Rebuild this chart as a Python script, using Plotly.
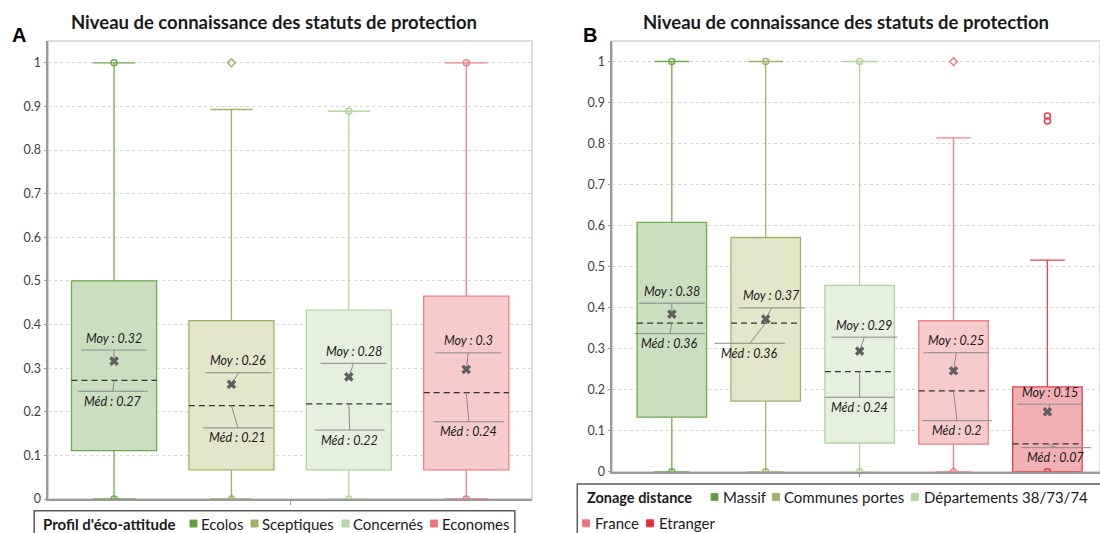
import plotly.graph_objects as go

# ---------------- DATA ----------------
# Panel A : Profil d'éco-attitude
groups_a = ["Ecolos", "Sceptiques", "Concernés", "Economes"]
q1_a = [0.111, 0.067, 0.067, 0.067]
median_a = [0.272, 0.214, 0.218, 0.244]
q3_a = [0.500, 0.409, 0.433, 0.465]
mean_a = [0.316, 0.263, 0.280, 0.297]
low_a = [0.0, 0.0, 0.0, 0.0]
high_a = [1.0, 0.893, 0.889, 1.0]
points_a = [[0.0, 1.0], [0.0, 1.0], [0.0, 0.889], [0.0, 1.0]]

# Panel B : Zonage distance
groups_b = ["Massif", "Communes portes", "Départements 38/73/74", "France", "Etranger"]
q1_b = [0.133, 0.172, 0.070, 0.067, 0.0]
median_b = [0.362, 0.362, 0.244, 0.197, 0.068]
q3_b = [0.608, 0.571, 0.454, 0.368, 0.207]
mean_b = [0.384, 0.372, 0.294, 0.246, 0.146]
low_b = [0.0, 0.0, 0.0, 0.0, 0.0]
high_b = [1.0, 1.0, 1.0, 0.814, 0.516]
points_b = [[0.0, 1.0], [0.0, 1.0], [0.0, 1.0], [0.0, 1.0], [0.0, 0.867, 0.855]]

tick_vals = [0, 0.1, 0.2, 0.3, 0.4, 0.5, 0.6, 0.7, 0.8, 0.9, 1]
tick_text = ["0", "0.1", "0.2", "0.3", "0.4", "0.5", "0.6", "0.7", "0.8", "0.9", "1"]

title_text = "Niveau de connaissance des statuts de protection"
legend_title_a = "Profil d'éco-attitude"
legend_title_b = "Zonage distance"

# ---------------- STYLES / POSITIONS ----------------
line_a = ["#6FAA4C", "#A3B266", "#B3D49E", "#EE7F84"]
fill_a = ["#CADFBD", "#E3E6C8", "#E6F0DE", "#F6CBCC"]
sym_a = ["circle-open", "diamond-open", "circle-open", "circle-open"]
leg_a = ["#5E9C3E", "#A2B161", "#B8D7A4", "#EA7479"]

line_b = ["#6FAA4C", "#A3B266", "#B3D49E", "#EE7F84", "#E4404C"]
fill_b = ["#CADFBD", "#E3E6C8", "#E6F0DE", "#F6CBCC", "#F2B0B3"]
sym_b = ["circle-open", "circle-open", "circle-open", "diamond-open", "circle-open"]
leg_b = ["#5E9C3E", "#A2B161", "#B8D7A4", "#EA7479", "#E0303C"]

# label (leader line) placement, in data units
moy_line_a = [0.3415, 0.2895, 0.311, 0.335]
med_line_a = [0.247, 0.163, 0.158, 0.177]
moy_dx_a = [0.0, 0.06, 0.04, 0.017]
med_dx_a = [-0.01, 0.055, 0.007, 0.023]

moy_line_b = [0.4107, 0.3993, 0.328, 0.290, 0.1644]
med_line_b = [0.3366, 0.313, 0.1815, 0.1244, 0.0585]
moy_dx_b = [0.0, 0.063, 0.05, 0.03, 0.026]
med_dx_b = [-0.02, -0.169, 0.0, 0.037, 0.092]

W, H = 1100, 533          # reference geometry
FIG_H = 540               # page height actually rendered
FONT = "Lato, 'Open Sans', sans-serif"

def px(x):
    return x / W

def py(y):
    return (H - y) / H

dom_a_x = [48.3, 532.0]
dom_a_y = [499.0, 41.0]
dom_b_x = [612.3, 1100.0]
dom_b_y = [471.7, 41.0]
range_a = [-0.56, 3.56]
range_b = [-0.634, 4.56]
bw_a, bw_b = 0.725, 0.74


def fmt(v):
    return f"{round(v, 2):g}"


fig = go.Figure()
annotations = []
shapes = []


def add_panel(xa, ya, groups, q1, med, q3, mean, low, high, pts, lines, fills, syms,
              bw, moy_line, med_line, moy_dx, med_dx, ppu):
    for i, g in enumerate(groups):
        fig.add_trace(go.Box(
            x=[i], q1=[q1[i]], median=[med[i]], q3=[q3[i]],
            lowerfence=[low[i]], upperfence=[high[i]],
            width=bw, whiskerwidth=0.5, fillcolor=fills[i],
            line=dict(color=lines[i], width=1.3), boxpoints=False,
            name=g, showlegend=False, xaxis=xa, yaxis=ya, hoverinfo="skip"))
    for i, g in enumerate(groups):
        # cover the solid median line, then draw dashed black median
        fig.add_trace(go.Scatter(
            x=[i - bw / 2 + 0.008, i + bw / 2 - 0.008], y=[med[i], med[i]],
            mode="lines", line=dict(color=fills[i], width=2.6),
            showlegend=False, hoverinfo="skip", xaxis=xa, yaxis=ya))
        fig.add_trace(go.Scatter(
            x=[i - bw / 2, i + bw / 2], y=[med[i], med[i]],
            mode="lines", line=dict(color="#333333", width=1.3, dash="6px,4px"),
            showlegend=False, hoverinfo="skip", xaxis=xa, yaxis=ya))
    # leader lines
    hw_moy = 33 / ppu
    hw_med = 35 / ppu
    lx, ly = [], []
    for i in range(len(groups)):
        cm = i + moy_dx[i]
        cd = i + med_dx[i]
        lx += [cm - hw_moy, cm + hw_moy, None, cm, i, None]
        ly += [moy_line[i], moy_line[i], None, moy_line[i], mean[i], None]
        lx += [cd - hw_med, cd + hw_med, None, i, cd, None]
        ly += [med_line[i], med_line[i], None, med[i], med_line[i], None]
        annotations.append(dict(
            x=cm, y=moy_line[i], xref=xa, yref=ya, text="<i>Moy : " + fmt(mean[i]) + "</i>",
            showarrow=False, xanchor="center", yanchor="middle", yshift=12,
            font=dict(family=FONT, size=12.5, color="#1a1a1a")))
        annotations.append(dict(
            x=cd, y=med_line[i], xref=xa, yref=ya, text="<i>Méd : " + fmt(med[i]) + "</i>",
            showarrow=False, xanchor="center", yanchor="middle", yshift=-10,
            font=dict(family=FONT, size=12.5, color="#1a1a1a")))
    fig.add_trace(go.Scatter(x=lx, y=ly, mode="lines",
                             line=dict(color="#8a8a8a", width=1),
                             showlegend=False, hoverinfo="skip", xaxis=xa, yaxis=ya))
    # mean markers
    fig.add_trace(go.Scatter(
        x=list(range(len(groups))), y=mean, mode="markers",
        marker=dict(symbol="x", size=8.5, color="#5f5f5f", line=dict(width=0)),
        showlegend=False, hoverinfo="skip", xaxis=xa, yaxis=ya))
    # extreme points / outliers
    for i in range(len(groups)):
        fig.add_trace(go.Scatter(
            x=[i] * len(pts[i]), y=pts[i], mode="markers",
            marker=dict(symbol=syms[i], size=6, color=lines[i], line=dict(width=1.5, color=lines[i])),
            showlegend=False, hoverinfo="skip", xaxis=xa, yaxis=ya))


add_panel("x", "y", groups_a, q1_a, median_a, q3_a, mean_a, low_a, high_a, points_a,
          line_a, fill_a, sym_a, bw_a, moy_line_a, med_line_a, moy_dx_a, med_dx_a,
          (dom_a_x[1] - dom_a_x[0]) / (range_a[1] - range_a[0]))
add_panel("x2", "y2", groups_b, q1_b, median_b, q3_b, mean_b, low_b, high_b, points_b,
          line_b, fill_b, sym_b, bw_b, moy_line_b, med_line_b, moy_dx_b, med_dx_b,
          (dom_b_x[1] - dom_b_x[0]) / (range_b[1] - range_b[0]))

# frames (light gray top/right)
for xr, yr in [("x domain", "y domain"), ("x2 domain", "y2 domain")]:
    shapes.append(dict(type="rect", xref=xr, yref=yr, x0=0, x1=1, y0=0, y1=1,
                       line=dict(color="#d2d2d2", width=1.5), layer="below"))

# titles and panel letters
for cx, letter, lx in [(274, "A", 19), (846, "B", 589.5)]:
    annotations.append(dict(x=px(cx), y=py(22.5), xref="paper", yref="paper", text="<b>" + title_text + "</b>",
                            showarrow=False, xanchor="center", yanchor="middle",
                            font=dict(family=FONT, size=18.5, color="#1a1a1a")))
    annotations.append(dict(x=px(lx), y=py(34.5), xref="paper", yref="paper", text="<b>" + letter + "</b>",
                            showarrow=False, xanchor="center", yanchor="middle",
                            font=dict(family="Liberation Sans, Arial, sans-serif", size=20, color="#000000")))

# legends (manual, compact)
def leg_box(x0, y0, x1, y1):
    shapes.append(dict(type="rect", xref="paper", yref="paper", x0=px(x0), x1=px(x1), y0=py(y1), y1=py(y0),
                       line=dict(color="#5a5a5a", width=1.5), fillcolor="rgba(0,0,0,0)"))

def leg_text(x, y, txt, size, bold=False):
    annotations.append(dict(x=px(x), y=py(y), xref="paper", yref="paper",
                            text=("<b>" + txt + "</b>") if bold else txt,
                            showarrow=False, xanchor="left", yanchor="middle",
                            font=dict(family=FONT, size=size, color="#1a1a1a")))

def leg_square(x, y, color, fillc):
    shapes.append(dict(type="rect", xref="paper", yref="paper", x0=px(x), x1=px(x + 7), y0=py(y + 3.5), y1=py(y - 3.5),
                       line=dict(color=color, width=1), fillcolor=fillc))

leg_box(34.2, 510.7, 514.8, 545)
leg_text(41, 523.5, legend_title_a, 15, bold=True)
sq_a = [190.0, 251.0, 342.0, 430.5]
tx_a = [201.0, 261.5, 353.0, 442.0]
for i, g in enumerate(groups_a):
    leg_square(sq_a[i], 523.5, line_a[i], leg_a[i])
    leg_text(tx_a[i] - 2, 523.5, g, 15)

leg_box(577.3, 484, 1105, 545)
leg_text(585, 497, legend_title_b, 14.5, bold=True)
sq_b = [(711.0, 497), (772.5, 497), (911.3, 497), (582.5, 523.3), (646.5, 523.3)]
tx_b = [(720.5, 497), (781.5, 497), (921.5, 497), (592.5, 523.3), (656.5, 523.3)]
for i, g in enumerate(groups_b):
    leg_square(sq_b[i][0], sq_b[i][1], line_b[i], leg_b[i])
    leg_text(tx_b[i][0], tx_b[i][1], g, 15)

axis_common_y = dict(range=[0, 1.05], tickvals=tick_vals, ticktext=tick_text, showgrid=True,
                     gridcolor="#d6d6d6", griddash="dot", gridwidth=1, zeroline=False,
                     showline=True, linecolor="#9a9a9a", linewidth=1.5, ticks="outside",
                     ticklen=3, tickcolor="#9a9a9a",
                     tickfont=dict(family=FONT, size=12.5, color="#404040"))
axis_common_x = dict(showgrid=False, zeroline=False, showticklabels=False, showline=True,
                     linecolor="#9a9a9a", linewidth=1.5, ticks="outside", ticklen=4,
                     tickcolor="#9a9a9a")

fig.update_layout(
    width=W, height=FIG_H, margin=dict(l=0, r=0, t=0, b=0),
    paper_bgcolor="white", plot_bgcolor="white", showlegend=False,
    xaxis=dict(domain=[px(dom_a_x[0]), px(dom_a_x[1])], range=range_a, anchor="y",
               tickvals=[1.5], **axis_common_x),
    yaxis=dict(domain=[py(dom_a_y[0]), py(dom_a_y[1])], anchor="x", **axis_common_y),
    xaxis2=dict(domain=[px(dom_b_x[0]), 1.0], range=range_b, anchor="y2",
                tickvals=[2], **axis_common_x),
    yaxis2=dict(domain=[py(dom_b_y[0]), py(dom_b_y[1])], anchor="x2", **axis_common_y),
    annotations=annotations, shapes=shapes,
)

page_fix = (
    "var gd=document.getElementById('{plot_id}');"
    "var s=[document.documentElement, document.body, gd.parentElement];"
    "for(var i=0;i<s.length;i++){s[i].style.margin='0px';s[i].style.padding='0px';"
    "s[i].style.height='" + str(FIG_H) + "px';s[i].style.overflow='hidden';}"
    "gd.style.display='block';"
)

fig.write_html("out.html", config={"displayModeBar": False}, post_script=page_fix)
